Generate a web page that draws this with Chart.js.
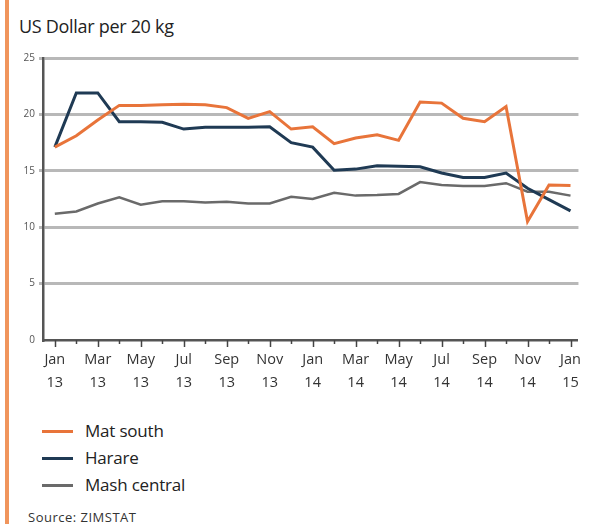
<!DOCTYPE html>
<html><head><meta charset="utf-8">
<script src="https://cdn.jsdelivr.net/npm/chart.js@4"></script>
<style>
html,body{margin:0;padding:0;background:#fff;width:590px;height:524px;overflow:hidden;font-family:"Open Sans","Noto Sans",sans-serif;}
#bar{position:absolute;left:5px;top:0;width:4px;height:524px;background:#f0955c;}
#title{position:absolute;left:19px;top:14px;font-size:18px;color:#222;letter-spacing:-0.3px;}
#wrap{position:absolute;left:0;top:40px;width:590px;height:360px;}
.leg{position:absolute;left:42px;font-size:17px;color:#222;letter-spacing:-0.2px;}
.leg span{display:inline-block;width:31px;height:3px;vertical-align:middle;margin-right:12px;position:relative;top:-1px;}
#src{position:absolute;left:28px;top:508px;font-size:13px;color:#333;letter-spacing:0.5px;}
</style></head><body>
<div id="bar"></div>
<div id="title">US Dollar per 20 kg</div>
<div id="wrap"><canvas id="c" width="590" height="360"></canvas></div>
<div class="leg" style="top:419px"><span style="background:#e8743a"></span>Mat south</div>
<div class="leg" style="top:446px"><span style="background:#1f3a54"></span>Harare</div>
<div class="leg" style="top:473px"><span style="background:#6a6a6a"></span>Mash central</div>
<div id="src">Source: ZIMSTAT</div>
<script>
const months = ["Jan","Feb","Mar","Apr","May","Jun","Jul","Aug","Sep","Oct","Nov","Dec","Jan","Feb","Mar","Apr","May","Jun","Jul","Aug","Sep","Oct","Nov","Dec","Jan"];
const years = ["13","13","13","13","13","13","13","13","13","13","13","13","14","14","14","14","14","14","14","14","14","14","14","14","15"];
const matSouth = [17.1,18.1,19.5,20.8,20.8,20.85,20.9,20.85,20.6,19.65,20.25,18.7,18.9,17.4,17.9,18.2,17.7,21.1,21.0,19.65,19.35,20.7,10.5,13.75,13.7];
const harare = [17.1,21.9,21.9,19.35,19.35,19.3,18.7,18.85,18.85,18.85,18.9,17.5,17.1,15.05,15.15,15.45,15.4,15.35,14.8,14.4,14.4,14.8,13.45,12.45,11.45];
const mashCentral = [11.2,11.4,12.1,12.65,12.0,12.3,12.3,12.2,12.25,12.1,12.1,12.7,12.5,13.05,12.8,12.85,12.95,14.0,13.75,13.65,13.65,13.9,13.15,13.15,12.8];
const yTicks = [0,5,10,15,20,25];

const pts = a => a.map((v,i)=>({x:i,y:v}));
const tickPlugin = {
  id:'xt',
  afterDraw(chart){
    const ctx=chart.ctx, xs=chart.scales.x, ys=chart.scales.y;
    const y0=ys.getPixelForValue(0);
    ctx.save();
    ctx.strokeStyle='#444';ctx.lineWidth=1.5;
    months.forEach((m,i)=>{
      const x=Math.round(xs.getPixelForValue(i))+0.5;
      ctx.beginPath();ctx.moveTo(x,y0);ctx.lineTo(x,y0+(i%2===0?7:4));ctx.stroke();
    });
    ctx.restore();
  }
};
new Chart(document.getElementById('c'),{
  type:'line',
  data:{datasets:[
    {label:'Mat south',data:pts(matSouth),borderColor:'#e8743a',borderWidth:3,pointRadius:0,tension:0,order:1},
    {label:'Harare',data:pts(harare),borderColor:'#1f3a54',borderWidth:3,pointRadius:0,tension:0,order:2},
    {label:'Mash central',data:pts(mashCentral),borderColor:'#6a6a6a',borderWidth:2.5,pointRadius:0,tension:0,order:3}
  ]},
  options:{
    responsive:false,animation:false,
    layout:{padding:{top:18,right:5,left:0,bottom:0}},
    plugins:{legend:{display:false},tooltip:{enabled:false}},
    scales:{
      x:{type:'linear',min:-0.55,max:24.37,
        afterFit(s){s.height=60;},
        afterBuildTicks(s){s.ticks=months.map((m,i)=>({value:i}));},
        grid:{display:true,drawOnChartArea:false,drawTicks:false,color:'#444',lineWidth:0},
        border:{display:true,color:'#555',width:2.5},
        ticks:{autoSkip:false,maxRotation:0,padding:9,color:'#333',
          font:{family:'"Open Sans","Noto Sans",sans-serif',size:14.5,lineHeight:1.55},
          callback:(v)=> (v%2===0 ? [months[v],years[v]] : ''),
        }
      },
      y:{min:0,max:25,
        afterFit(s){s.width=43;},
        afterBuildTicks(s){s.ticks=yTicks.map(v=>({value:v}));},
        grid:{color:c=>c.tick.value===0?'rgba(0,0,0,0)':'#b8b8b8',lineWidth:3,tickLength:4,drawTicks:true},
        border:{display:true,color:'#555',width:2.5},
        ticks:{padding:4,color:'#555',font:{family:'"Open Sans","Noto Sans",sans-serif',size:10}}
      }
    }
  },
  plugins:[tickPlugin]
});
</script>
</body></html>
